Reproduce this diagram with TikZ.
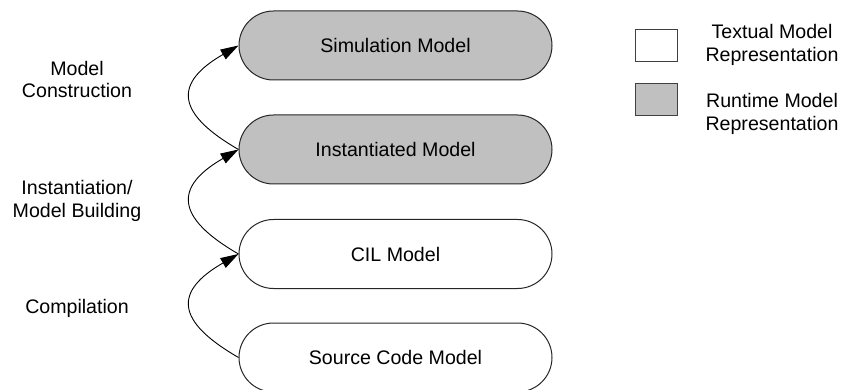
\documentclass[tikz,border=0pt]{standalone}
\usepackage{fontspec}
\setmainfont{Liberation Sans}
\usetikzlibrary{arrows.meta}
\definecolor{rtgray}{HTML}{C0C0C0}
\begin{document}
\begin{tikzpicture}[x=1pt,y=-1pt,
  every node/.style={font=\fontsize{19.6}{22.5}\selectfont, inner sep=0pt},
  modelbox/.style={draw=black!85, line width=1pt, minimum width=313pt, minimum height=69pt, rounded corners=34.5pt},
  textual/.style={modelbox, fill=white},
  runtime/.style={modelbox, fill=rtgray},
  legendbox/.style={draw=black!75, line width=1pt, minimum width=42pt, minimum height=32pt},
  stepcurve/.style={draw=black, line width=0.9pt, -{Triangle[length=18pt,width=11pt]}},
  lbl/.style={align=center}
]
\useasboundingbox (0,0) rectangle (841,390);

\node[runtime] (sim) at (395.5,45.5) {Simulation Model};
\node[runtime] (inst) at (395.5,149.5) {Instantiated Model};
\node[textual] (cil) at (395.5,254) {CIL Model};
\node[textual] (src) at (395.5,357.5) {Source Code Model};

\draw[stepcurve] (src.west) to[out=150,in=210,distance=74pt] (cil.west);
\draw[stepcurve] (cil.west) to[out=150,in=210,distance=74pt] (inst.west);
\draw[stepcurve] (inst.west) to[out=150,in=210,distance=74pt] (sim.west);

\node[lbl] (lc) at (77,79.5) {Model\\Construction};
\node[lbl] (li) at (77,201) {Instantiation/\\Model Building};
\node[lbl] (lcomp) at (77,308.5) {Compilation};

\node[legendbox, fill=white] (lt) at (656,45.5) {};
\node[legendbox, fill=rtgray] (lr) at (656,100) {};
\node[lbl] (ltt) at (772,45) {Textual Model\\Representation};
\node[lbl] (lrt) at (772,114) {Runtime Model\\Representation};
\end{tikzpicture}
\end{document}
